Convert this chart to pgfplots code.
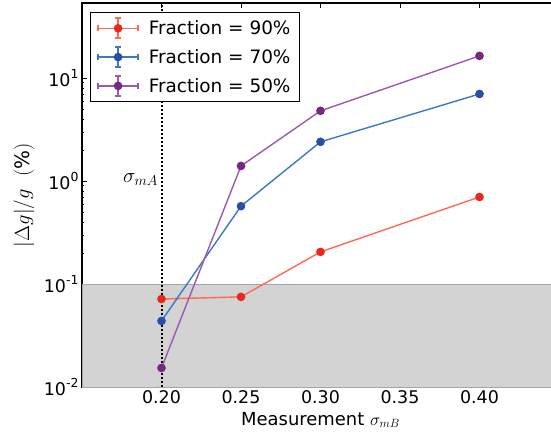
\documentclass[border=0pt]{standalone}
\usepackage{fontspec}
\setmainfont{DejaVu Sans}
\usepackage{pgfplots}
\pgfplotsset{compat=1.18}
\definecolor{redM}{HTML}{E8281E}
\definecolor{redL}{HTML}{FF6A55}
\definecolor{blueM}{HTML}{2A4EA8}
\definecolor{blueL}{HTML}{3A78C8}
\definecolor{purpM}{HTML}{76297F}
\definecolor{purpL}{HTML}{9A5AAE}
\definecolor{band}{HTML}{D3D3D3}
\newcommand{\sx}[1]{10\raisebox{0.42em}{\fontsize{12.5}{13}\selectfont #1}}
\begin{document}
\begin{tikzpicture}
\begin{axis}[
  scale only axis, width=477bp, height=384bp,
  xmode=normal, ymode=log,
  xmin=0.15, xmax=0.45, ymin=0.01, ymax=53.5,
  xtick={0.20,0.25,0.30,0.35,0.40},
  xticklabels={0.20,0.25,0.30,0.35,0.40},
  ytick={0.01,0.1,1,10},
  yticklabels={\sx{-2},\sx{-1},\sx{0},\sx{1}},
  tick label style={font=\fontsize{17.5}{20}\selectfont},
  tick align=inside, major tick length=5bp, minor tick length=2.5bp,
  xtick pos=both, ytick pos=left,
  axis line style={line width=1.4bp},
  every tick/.style={black, line width=0.6bp},
  xlabel={Measurement $\sigma_{mB}$},
  xlabel style={font=\fontsize{18}{20}\selectfont, at={(axis description cs:0.5,0)}, anchor=base, yshift=-38bp},
  ylabel={$|\Delta g|/g\ \ (\%)$},
  ylabel style={font=\fontsize{20}{22}\selectfont, at={(axis description cs:-0.1216,0.5)}, anchor=center},
  legend style={at={(axis description cs:0.0168,0.9766)}, anchor=north west,
    draw=black, fill=white, line width=0.8bp, font=\fontsize{18.5}{21}\selectfont,
    row sep=7bp, column sep=8bp, inner xsep=7bp, inner ysep=5bp},
  legend cell align=left,
  legend image code/.code={
    \draw[#1, mark=none] (0bp,0bp) -- (40bp,0bp);
    \draw[#1, mark=none] (0bp,-3bp) -- (0bp,3bp) (40bp,-3bp) -- (40bp,3bp);
    \draw[#1, mark=none, line width=1.8bp] (20bp,-10bp) -- (20bp,10bp) (17bp,-10bp) -- (23bp,-10bp) (17bp,10bp) -- (23bp,10bp);
    \draw[#1] plot coordinates {(20bp,0bp)};
  },
]
% shaded band below 10^-1
\addplot[draw=gray!70, line width=0.6bp, fill=band, forget plot] coordinates
  {(0.15,0.01) (0.45,0.01) (0.45,0.1) (0.15,0.1)} -- cycle;
\addplot[black, line width=2bp, dash pattern=on 1.6bp off 2.4bp, forget plot] coordinates
  {(0.20,0.01) (0.20,53.5)};
\node[anchor=base east, font=\fontsize{22}{24}\selectfont] at (axis cs:0.2,0.96) {$\sigma_{mA}$};

\addplot[redL, line width=1.4bp, mark=*, mark size=3.6bp, mark options={draw=redM, fill=redM}]
  coordinates {(0.20,0.0715) (0.25,0.075) (0.30,0.205) (0.40,0.70)};
\addlegendentry{Fraction = 90\%}
\addplot[blueL, line width=1.4bp, mark=*, mark size=3.6bp, mark options={draw=blueM, fill=blueM}]
  coordinates {(0.20,0.0438) (0.25,0.57) (0.30,2.4) (0.40,7.0)};
\addlegendentry{Fraction = 70\%}
\addplot[purpL, line width=1.4bp, mark=*, mark size=3.6bp, mark options={draw=purpM, fill=purpM}]
  coordinates {(0.20,0.0153) (0.25,1.40) (0.30,4.8) (0.40,16.4)};
\addlegendentry{Fraction = 50\%}
\end{axis}
\pgfresetboundingbox
\path[use as bounding box] (-82bp,-48bp) rectangle (469bp,387bp);
\end{tikzpicture}
\end{document}
